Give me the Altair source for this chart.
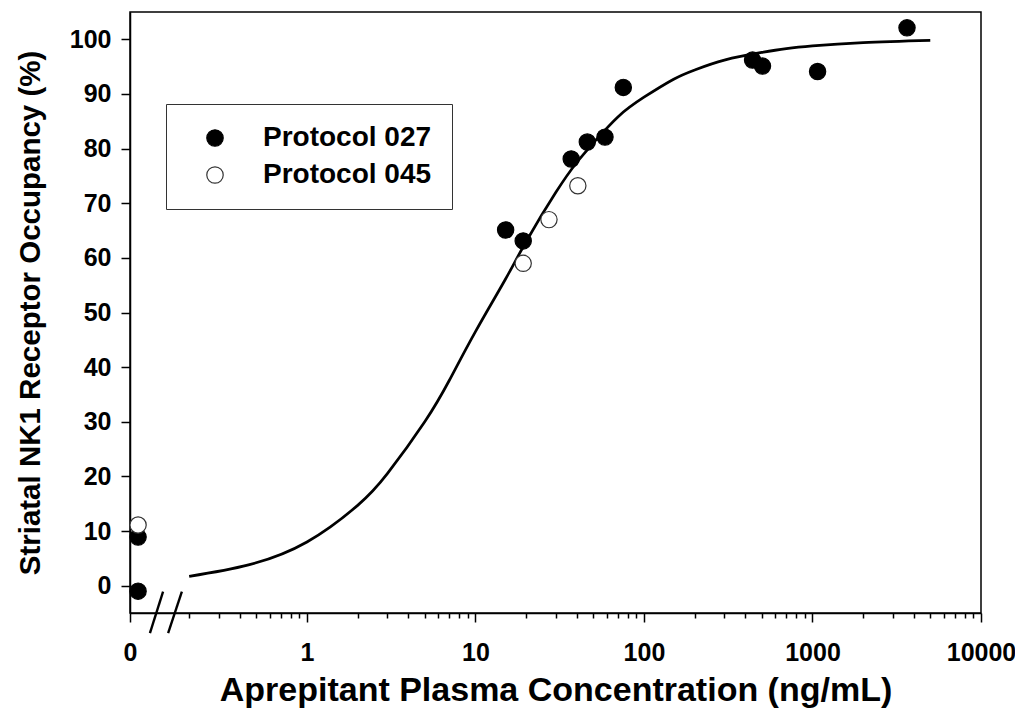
import altair as alt
import pandas as pd

# ---- data ----
# Protocol 027 (filled)
p027_conc = [0, 0, 15.1, 19.2, 37.0, 46.1, 58.7, 75.4, 441, 505, 1072, 3638]
p027_occ = [8.9, -1.0, 65.1, 63.1, 78.1, 81.2, 82.1, 91.2, 96.2, 95.1, 94.1, 102.1]
# Protocol 045 (open)
p045_conc = [0, 19.2, 27.3, 40.5]
p045_occ = [11.1, 59.0, 67.0, 73.2]
# fitted curve as drawn
fit_conc = [0.2, 0.45, 1, 2, 3, 5, 7, 10, 15, 20, 30, 40, 50, 70, 100, 150, 200, 300, 500, 700, 1000, 2000, 5000]
fit_occ = [1.7, 3.8, 8.0, 14.7, 20.5, 30.0, 37.6, 46.5, 56.0, 63.0, 72.0, 77.5, 81.0, 85.8, 89.4, 92.7, 94.4, 96.2, 97.6, 98.3, 98.8, 99.4, 99.8]
# axis ticks
x_major = [0.0891, 1, 10, 100, 1000, 10000]
x_minor = [0.2, 0.3, 0.4, 0.5, 0.6, 0.7, 0.8, 0.9,
           2, 3, 4, 5, 6, 7, 8, 9,
           20, 30, 40, 50, 60, 70, 80, 90,
           200, 300, 400, 500, 600, 700, 800, 900,
           2000, 3000, 4000, 5000, 6000, 7000, 8000, 9000]
y_ticks = [0, 10, 20, 30, 40, 50, 60, 70, 80, 90, 100]
# axis-break slashes (data units)
brk_x = [0.117, 0.150]
brk_x2 = [0.140, 0.181]
brk_y = [-8.7, -8.7]
brk_y2 = [-1.1, -1.1]

FONT = "Liberation Sans"

pts = pd.DataFrame({
    "conc": p027_conc + p045_conc,
    "occ": p027_occ + p045_occ,
    "protocol": ["Protocol 027"] * len(p027_conc) + ["Protocol 045"] * len(p045_conc),
})
fit = pd.DataFrame({"conc": fit_conc, "occ": fit_occ})
brk = pd.DataFrame({"x": brk_x, "x2": brk_x2, "y": brk_y, "y2": brk_y2})
minor = pd.DataFrame({"conc": x_minor})

xscale = alt.Scale(type="log", domain=[0.0891, 10000], nice=False)
yscale = alt.Scale(domain=[-5, 105], nice=False, zero=False)

x_axis = alt.Axis(
    values=x_major, labelExpr="datum.value < 0.5 ? '0' : format(datum.value, 'd')",
    title="Aprepitant Plasma Concentration (ng/mL)", orient="bottom",
    tickSize=9, labelPadding=18, labelFlush=False, labelOverlap=False,
    labelFont=FONT, labelFontSize=25, labelFontWeight="bold", labelColor="black",
    titleFont=FONT, titleFontSize=34, titleFontWeight="bold", titleColor="black",
    titlePadding=8, grid=False, domainColor="black", domainWidth=1.5,
    tickColor="black", tickWidth=1.5,
)
y_axis = alt.Axis(
    values=y_ticks, title="Striatal NK1 Receptor Occupancy (%)",
    tickSize=9, labelPadding=10, labelFont=FONT, labelFontSize=25, labelFontWeight="bold",
    labelColor="black", titleFont=FONT, titleFontSize=29.5, titleFontWeight="bold",
    titleColor="black", titlePadding=24, grid=False, domainColor="black", domainWidth=1.5,
    tickColor="black", tickWidth=1.5,
)

curve = alt.Chart(fit).mark_line(color="black", strokeWidth=2.7, clip=False,
                                  interpolate="natural").encode(
    x=alt.X("conc:Q", scale=xscale, axis=x_axis),
    y=alt.Y("occ:Q", scale=yscale, axis=y_axis),
)

minor_ticks = alt.Chart(minor).mark_point(opacity=0).encode(
    x=alt.X("conc:Q", scale=xscale, axis=alt.Axis(
        values=x_minor, labels=False, title=None, orient="bottom", tickSize=5,
        tickColor="black", tickWidth=1.5, domain=False, grid=False)),
)

leg = alt.Legend(title=None, orient="none", legendX=36, legendY=92,
                 padding=20, symbolOffset=15, labelOffset=34, labelLimit=400,
                 rowPadding=9, symbolSize=270, symbolType="circle",
                 symbolStrokeWidth=1.2,
                 labelFont=FONT, labelFontSize=28, labelFontWeight="bold",
                 labelColor="black", strokeColor="#333", fillColor="white")

points = alt.Chart(pts).transform_calculate(
    xpos="datum.conc <= 0 ? 0.0995 : datum.conc"
).mark_point(filled=True, size=265, strokeWidth=1.2, opacity=1, clip=False).encode(
    x=alt.X("xpos:Q", scale=xscale, axis=None),
    y=alt.Y("occ:Q", scale=yscale),
    fill=alt.Fill("protocol:N", scale=alt.Scale(domain=["Protocol 027", "Protocol 045"],
                                                range=["black", "white"]), legend=leg),
    stroke=alt.Stroke("protocol:N", scale=alt.Scale(domain=["Protocol 027", "Protocol 045"],
                                                    range=["black", "#333"]), legend=leg),
)

breaks = alt.Chart(brk).mark_rule(color="black", strokeWidth=2.4, clip=False).encode(
    x=alt.X("x:Q", scale=xscale, axis=None), x2="x2:Q",
    y=alt.Y("y:Q", scale=yscale), y2="y2:Q",
)

chart = alt.layer(curve, minor_ticks, breaks, points).resolve_axis(x="independent").properties(
    width=851, height=601,
    autosize=alt.AutoSizeParams(type="none"),
    padding={"left": 122, "top": 4, "right": 34, "bottom": 99},
    background="white",
).configure_view(stroke="black", strokeWidth=1.5)

chart.save("out.html", embed_options={"renderer": "svg", "actions": False})
